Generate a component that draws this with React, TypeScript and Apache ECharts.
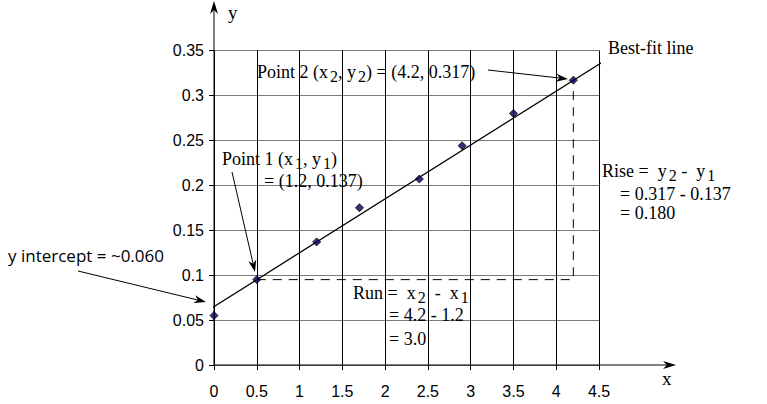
import React, { useEffect, useRef } from "react";
import * as echarts from "echarts";

// Measured data points
const xValues = [0, 0.5, 1.2, 1.7, 2.4, 2.9, 3.5, 4.2];
const yValues = [0.055, 0.095, 0.137, 0.175, 0.207, 0.244, 0.28, 0.317];
// Best-fit line end points
const fitX = [-0.1, 4.62];
const fitY = [0.059, 0.342];
// Rise / run dashed guide
const guideX = [0.5, 4.2, 4.2];
const guideY = [0.095, 0.095, 0.31];
// Axis ranges
const X_MIN = 0, X_MAX = 4.5, X_STEP = 0.5;
const Y_MIN = 0, Y_MAX = 0.35, Y_STEP = 0.05;

const SERIF = "'Liberation Serif', 'DejaVu Serif', serif";
const SANS = "'Liberation Sans', sans-serif";
const FS = 18;

function arrow(x1: number, y1: number, x2: number, y2: number, L = 12, W = 4) {
  const dx = x2 - x1, dy = y2 - y1;
  const len = Math.hypot(dx, dy);
  const ux = dx / len, uy = dy / len;
  const nx = -uy, ny = ux;
  const bx = x2 - ux * L, by = y2 - uy * L;
  const mx = x2 - ux * L * 0.7, my = y2 - uy * L * 0.7;
  return [
    { type: "line", shape: { x1, y1, x2: mx, y2: my }, style: { stroke: "#000", lineWidth: 1 }, silent: true },
    {
      type: "polygon",
      shape: { points: [[x2, y2], [bx + nx * W, by + ny * W], [mx, my], [bx - nx * W, by - ny * W]] },
      style: { fill: "#000" },
      silent: true,
    },
  ];
}

function txt(x: number, y: number, text: string, fontSize: number, family: string, rich?: any, lineHeight?: number) {
  return {
    type: "text",
    x,
    y,
    silent: true,
    style: {
      text,
      fontSize,
      fontFamily: family,
      fill: "#000",
      align: "left",
      verticalAlign: "middle",
      lineHeight: lineHeight ?? 18,
      rich,
    },
  };
}

const subRich = {
  n: { fontSize: FS, fontFamily: SERIF, fill: "#000", lineHeight: 18, verticalAlign: "top" },
  s: { fontSize: 16, fontFamily: SERIF, fill: "#000", lineHeight: 12, verticalAlign: "top", padding: [5.5, 0, 0, 2] },
};

function subTxt(x: number, yCenter: number, text: string) {
  return txt(x, yCenter, text, FS, SERIF, subRich, 18);
}

export default function App() {
  const ref = useRef<HTMLDivElement>(null);
  useEffect(() => {
    if (!ref.current) return;
    const chart = echarts.init(ref.current, undefined, { renderer: "svg" });
    const option: any = {
      animation: false,
      backgroundColor: "#fff",
      grid: { left: 214, right: 168, top: 50.5, bottom: 39, containLabel: false },
      xAxis: {
        type: "value",
        min: X_MIN,
        max: X_MAX,
        interval: X_STEP,
        axisLine: { show: false },
        axisTick: { show: true, length: 5, lineStyle: { color: "#000" } },
        splitLine: { show: true, lineStyle: { color: "#000", width: 1 } },
        axisLabel: { color: "#000", fontSize: 16, fontFamily: SANS, margin: 18.5, showMinLabel: true, showMaxLabel: true },
      },
      yAxis: {
        type: "value",
        min: Y_MIN,
        max: Y_MAX,
        interval: Y_STEP,
        axisLine: { show: false },
        axisTick: { show: true, length: 5, lineStyle: { color: "#000" } },
        splitLine: { show: true, lineStyle: { color: "#7a7a7a", width: 1 } },
        axisLabel: { color: "#000", fontSize: 16, fontFamily: SANS, margin: 10, showMinLabel: true, showMaxLabel: true },
      },
      series: [
        {
          type: "line",
          name: "guide",
          data: guideX.map((x, i) => [x, guideY[i]]),
          symbol: "none",
          clip: false,
          lineStyle: { color: "#000", width: 1, type: [9, 7] },
          z: 2,
        },
        {
          type: "line",
          name: "Best-fit line",
          data: fitX.map((x, i) => [x, fitY[i]]),
          symbol: "none",
          clip: false,
          lineStyle: { color: "#000", width: 1.3 },
          z: 3,
        },
        {
          type: "scatter",
          name: "data",
          data: xValues.map((x, i) => [x, yValues[i]]),
          symbol: "diamond",
          symbolSize: 8,
          itemStyle: { color: "#00005a", borderColor: "#000", borderWidth: 1 },
          z: 4,
        },
      ],
    };
    chart.setOption(option);

    const o = chart.convertToPixel({ gridIndex: 0 }, [X_MIN, Y_MIN]) as number[];
    const graphics: any[] = [
      // axes with arrows
      ...arrow(o[0], o[1], o[0], 1, 13, 4),
      ...arrow(o[0], o[1], 676, o[1], 13, 4),
      txt(228, 12, "y", 19, SERIF),
      txt(662, 378, "x", 19, SERIF),
      // Point 2
      subTxt(257, 72, "{n|Point 2 (x}{s|2}{n|, y}{s|2}{n|) = (4.2, 0.317)}"),
      ...arrow(488, 70, 568, 79),
      txt(608, 48, "Best-fit line", FS, SERIF),
      // Point 1
      subTxt(222, 159, "{n|Point 1 (x}{s|1}{n|, y}{s|1}{n|)}"),
      txt(264, 181, "= (1.2, 0.137)", FS, SERIF),
      ...arrow(232, 172, 255, 272),
      // y intercept
      txt(8, 255, "y intercept = ~0.060", 17, "'Open Sans', sans-serif"),
      ...arrow(78, 271, 206, 302),
      // Run
      subTxt(353, 293, "{n|Run =  x}{s|2}{n|  -  x}{s|1}"),
      txt(389, 315, "= 4.2 - 1.2", FS, SERIF),
      txt(389, 339, "= 3.0", FS, SERIF),
      // Rise
      subTxt(602, 171, "{n|Rise =  y}{s|2}{n| -  y}{s|1}"),
      txt(620, 193.5, "= 0.317 - 0.137", FS, SERIF),
      txt(620, 212.5, "= 0.180", FS, SERIF),
    ];
    chart.setOption({ graphic: { elements: graphics } });
    return () => chart.dispose();
  }, []);
  return (
    <div
      ref={ref}
      style={{ position: "absolute", left: 0, top: 0, width: 767, height: 404, background: "#fff" }}
    />
  );
}
